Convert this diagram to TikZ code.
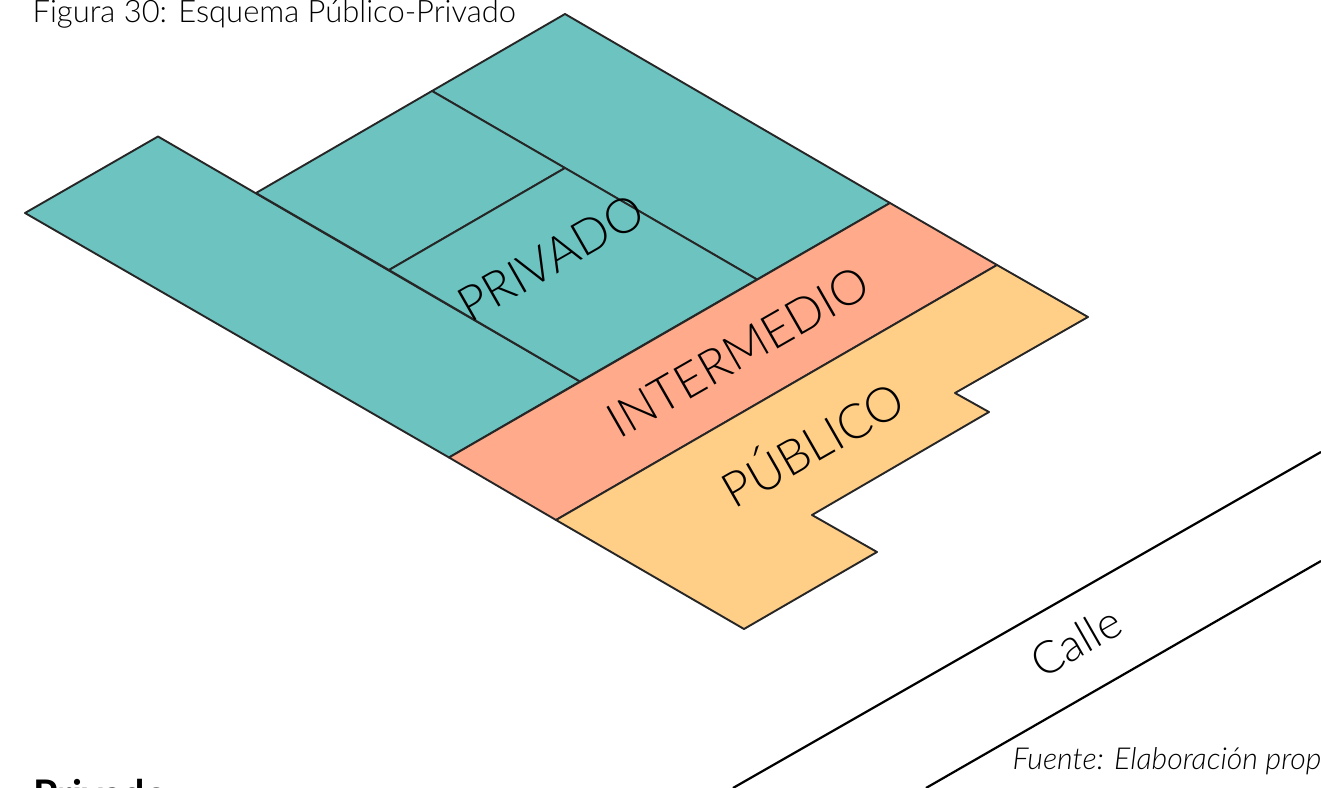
\documentclass[tikz,border=0pt]{standalone}
\usepackage{xcolor}
\usepackage{fontspec}
\setmainfont{Lato}
\newfontfamily\lightfont{Lato Light}
\usepackage{tikz}
\definecolor{privcol}{HTML}{6CC3C0}
\definecolor{intercol}{HTML}{FFAB8B}
\definecolor{pubcol}{HTML}{FFCE87}
\tikzset{%
  zone/.style     = {draw=black!85, line width=0.19mm, line join=round},
  street/.style   = {draw=black, line width=0.22mm},
  tag/.style      = {inner sep=0pt, rotate=29.8, font=\lightfont\fontsize{13.7pt}{16pt}\selectfont}, % on the plan
  caption/.style  = {inner sep=0pt, anchor=base west, font=\lightfont\fontsize{8.8pt}{10pt}\selectfont, text=black}
}

\begin{document}
\begin{tikzpicture}[x=0.01cm, y=-0.01cm]

	\useasboundingbox (0,0) rectangle (1321,788);
	\clip (0,0) rectangle (1321,788);

	% corners of the plan
	\coordinate (a1) at (25,213);
	\coordinate (a2) at (158,136.5);
	\coordinate (a3) at (580,381.5);
	\coordinate (a4) at (449,457.5);
	\coordinate (b1) at (565,14);
	\coordinate (b2) at (890,203);
	\coordinate (b3) at (757,279.5);
	\coordinate (b4) at (432,91);
	\coordinate (c1) at (565,168);
	\coordinate (c2) at (389,270);
	\coordinate (c3) at (256,193);
	\coordinate (d1) at (997,265);
	\coordinate (d2) at (556,520);

	\draw[zone, fill=privcol] (a1) -- (a2) -- (a3) -- (a4) -- cycle;
	\draw[zone, fill=privcol] (b1) -- (b2) -- (b3) -- (b4) -- cycle;
	\draw[zone, fill=privcol] (b4) -- (c1) -- (c2) -- (c3) -- cycle;
	\draw[zone, fill=privcol] (c1) -- (b3) -- (a3) -- (c2) -- cycle;
	\draw[zone, fill=intercol] (b2) -- (d1) -- (d2) -- (a4) -- cycle;
	\draw[zone, fill=pubcol] (d1) -- (1088,317) -- (955,393) -- (989,412) -- (812,515)
		-- (877,552) -- (744,629) -- (d2) -- cycle;

	% the street
	\coordinate (s1) at (733,788);
	\coordinate (s2) at (1321,452);
	\coordinate (s3) at (926,788);
	\coordinate (s4) at (1321,561);
	\draw[street] (s1) -- (s2);
	\draw[street] (s3) -- (s4);

	\node[tag] (privado) at (551,258) {PRIVADO};
	\node[tag] (intermedio) at (738,352) {INTERMEDIO};
	\node[tag] (publico) at (811,441) {PÚBLICO};
	\node[tag, font=\lightfont\fontsize{12.8pt}{16pt}\selectfont] (calle) at (1076,642) {Calle};

	\node[caption] (figura) at (32,23) {Figura 30: Esquema Público-Privado};
	\node[caption, font=\lightfont\fontsize{8.6pt}{10pt}\selectfont\itshape] (fuente) at (1012,769) {Fuente: Elaboración propia};
	\node[caption, font=\fontsize{11.2pt}{13pt}\bfseries, text=black] (titulo) at (33,808) {Privado};

\end{tikzpicture}
\end{document}
